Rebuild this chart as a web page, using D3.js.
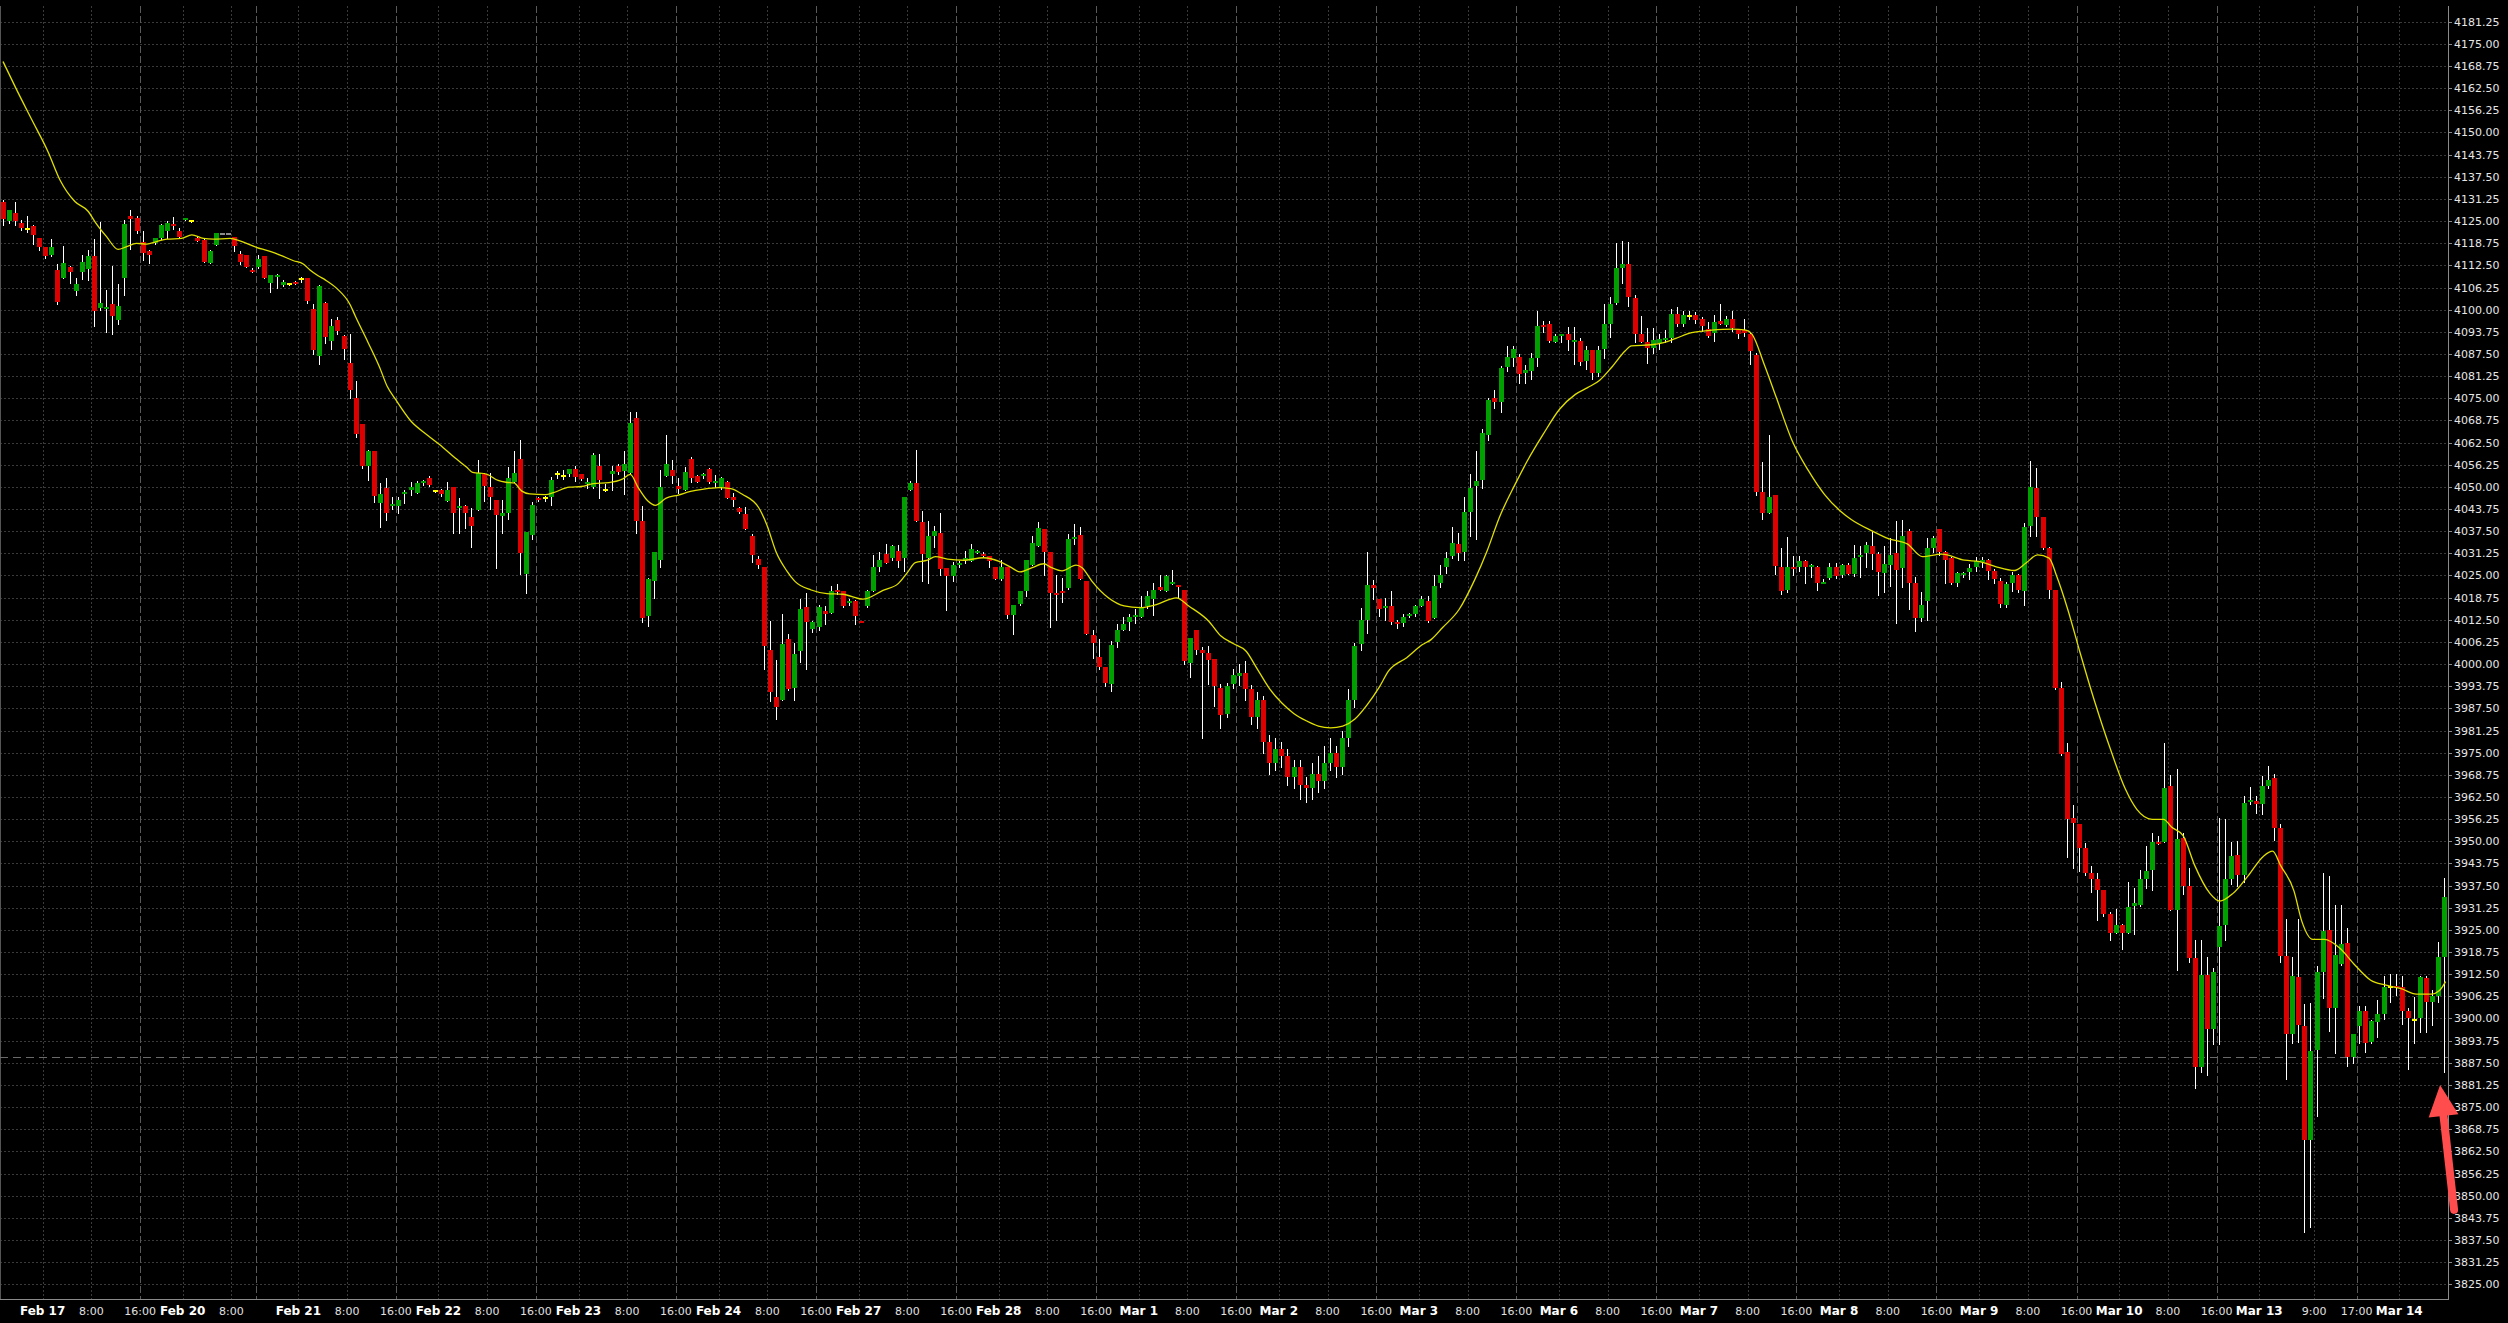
<!DOCTYPE html>
<html><head><meta charset="utf-8">
<script src="https://cdn.jsdelivr.net/npm/d3@7"></script>
<style>html,body{margin:0;padding:0;background:#000;overflow:hidden}svg{display:block}</style>
</head><body><svg id="chart" width="2508" height="1323"></svg>
<script>
// ---------- DATA (hourly candles) ----------
const opens = [
4130.5,4125.0,4127.25,4124.5,4122.75,4123.5,4120.25,4117.75,4115.5,4111.25,
4109.0,4112.0,4105.25,4110.5,4111.5,4115.25,4100.5,4100.5,4101.5,4097.0,
4109.0,4126.5,4126.0,4119.0,4116.5,4118.75,4120.25,4122.25,4124.25,4122.25,
4125.25,4125.0,4120.25,4119.75,4113.25,4118.25,4121.25,4121.25,4120.5,4115.75,
4115.5,4111.25,4112.0,4115.25,4107.5,4109.25,4107.0,4107.25,4107.75,4108.75,
4109.0,4100.25,4087.0,4102.0,4091.25,4097.0,4092.5,4085.0,4075.0,4067.75,
4056.0,4060.0,4045.5,4049.75,4044.5,4044.5,4048.0,4049.0,4048.25,4051.0,
4052.5,4048.75,4049.0,4046.0,4050.0,4044.0,4044.5,4041.5,4043.5,4053.75,
4050.0,4046.25,4041.75,4042.75,4051.25,4058.0,4025.5,4036.5,4046.75,4046.75,
4047.0,4053.5,4053.0,4053.5,4055.0,4053.5,4051.0,4050.0,4056.0,4049.0,
4053.75,4055.75,4054.5,4054.0,4069.5,4040.5,4013.5,4023.5,4029.5,4053.0,
4054.75,4050.25,4049.0,4057.75,4053.0,4053.25,4055.0,4051.25,4050.0,4051.5,
4047.25,4044.0,4042.25,4036.0,4029.75,4027.5,4004.0,3990.75,3990.0,4007.0,
3993.25,4003.75,4016.0,4010.0,4010.5,4015.0,4014.5,4021.0,4020.5,4017.25,
4017.75,4012.25,4016.5,4020.5,4027.5,4031.0,4030.0,4032.0,4030.0,4049.25,
4051.0,4040.0,4030.0,4036.0,4037.0,4027.0,4024.75,4028.0,4029.25,4029.0,
4031.5,4031.0,4030.5,4027.25,4024.0,4027.25,4013.75,4017.0,4020.5,4028.0,
4033.25,4038.25,4031.5,4020.0,4020.5,4021.5,4035.25,4036.5,4023.5,4008.25,
4002.0,3999.25,3994.25,4006.25,4009.5,4012.0,4013.25,4013.25,4016.5,4018.5,
4021.75,4020.5,4023.0,4022.25,4021.0,4000.25,4009.5,4004.0,4003.0,4001.5,
3993.25,3986.0,3994.25,3996.75,3997.5,3993.0,3985.0,3990.0,3978.0,3972.0,
3976.0,3974.0,3968.0,3971.0,3966.0,3965.0,3969.0,3967.0,3972.0,3975.0,
3971.0,3979.0,3990.0,4005.75,4012.5,4022.25,4018.5,4015.75,4016.5,4012.0,
4011.5,4013.75,4014.0,4016.5,4017.75,4013.0,4022.75,4027.25,4030.5,4034.0,
4031.75,4043.0,4050.25,4052.0,4064.75,4075.0,4074.0,4083.75,4086.5,4086.75,
4082.25,4082.75,4086.25,4095.75,4096.0,4091.0,4092.5,4093.0,4091.0,4091.25,
4085.5,4088.5,4082.0,4089.0,4096.0,4102.0,4111.75,4112.75,4103.25,4093.0,
4091.0,4089.25,4090.5,4091.75,4092.0,4098.75,4096.0,4098.25,4098.5,4097.5,
4094.5,4093.5,4096.75,4095.75,4097.5,4094.5,4094.25,4093.0,4087.25,4048.5,
4042.5,4047.75,4027.25,4021.0,4027.25,4027.25,4029.0,4027.25,4027.5,4023.0,
4024.25,4027.25,4025.25,4028.0,4025.5,4030.25,4031.25,4033.25,4031.0,4025.75,
4028.0,4031.25,4027.0,4037.5,4022.75,4013.0,4017.75,4032.75,4038.0,4031.75,
4030.0,4022.75,4025.25,4026.0,4027.25,4028.75,4029.25,4026.25,4023.5,4016.75,
4022.75,4025.0,4020.5,4039.0,4049.75,4041.5,4032.75,4021.0,3993.25,3975.25,
3956.5,3954.75,3948.0,3941.0,3939.25,3936.25,3929.5,3924.25,3926.25,3924.25,
3931.75,3932.0,3939.25,3942.0,3949.75,3949.75,3965.5,3930.5,3951.0,3937.5,
3917.0,3886.25,3912.25,3897.0,3920.25,3926.25,3939.25,3946.0,3940.5,3961.25,
3961.5,3960.5,3965.5,3967.75,3953.75,3917.5,3895.5,3911.75,3898.0,3865.75,
3891.0,3913.25,3925.0,3903.0,3915.5,3921.25,3889.25,3897.75,3902.0,3893.25,
3899.0,3901.25,3909.0,3909.25,3909.0,3902.0,3899.5,3900.0,3911.5,3904.75,
3906.25,3917.25];
const highs = [
4131.0,4128.25,4130.5,4125.25,4126.5,4124.0,4120.25,4117.75,4120.0,4113.0,
4118.0,4112.25,4109.0,4115.5,4116.75,4120.0,4124.75,4105.5,4112.25,4107.25,
4125.25,4128.0,4126.5,4122.25,4116.75,4120.25,4124.25,4125.0,4126.25,4123.0,
4125.75,4125.25,4120.5,4120.0,4116.75,4121.75,4121.25,4121.25,4120.5,4116.5,
4115.5,4111.75,4115.5,4115.25,4109.75,4110.0,4108.25,4107.5,4108.0,4109.25,
4109.0,4101.5,4107.0,4102.25,4097.5,4098.0,4092.75,4093.0,4079.75,4067.75,
4060.5,4060.0,4051.0,4052.5,4047.0,4047.0,4049.0,4051.25,4051.75,4052.0,
4053.0,4049.25,4049.5,4051.5,4050.0,4046.75,4045.0,4044.0,4057.5,4054.0,
4054.0,4046.25,4046.25,4055.5,4060.0,4063.25,4037.25,4045.75,4047.0,4047.5,
4052.75,4054.5,4054.75,4055.0,4055.75,4053.75,4052.5,4059.5,4059.25,4050.75,
4056.0,4056.5,4060.25,4071.0,4071.0,4044.5,4024.25,4031.75,4054.75,4064.75,
4057.5,4052.5,4055.5,4058.5,4053.25,4054.0,4055.25,4053.25,4052.75,4051.75,
4048.25,4044.25,4044.25,4036.75,4030.5,4027.5,4012.25,4001.25,4014.0,4008.5,
4006.0,4018.25,4020.0,4012.25,4016.75,4016.5,4022.0,4022.5,4020.75,4018.5,
4018.0,4012.25,4021.0,4030.75,4031.75,4033.75,4033.5,4033.5,4047.0,4051.75,
4060.5,4043.25,4040.5,4039.0,4042.75,4027.0,4028.75,4029.0,4032.0,4033.75,
4032.25,4031.75,4030.5,4027.5,4029.5,4027.5,4016.75,4020.5,4029.5,4036.0,
4040.0,4038.25,4031.5,4025.0,4024.25,4036.75,4039.5,4038.75,4023.5,4009.75,
4007.0,3999.25,4006.5,4011.25,4013.25,4014.25,4015.5,4019.25,4020.5,4023.0,
4025.25,4025.0,4026.5,4022.25,4021.0,4007.25,4009.75,4004.75,4005.0,4001.5,
3994.25,3994.75,3998.5,4000.0,4001.0,3994.0,3992.0,3991.0,3980.0,3979.0,
3978.0,3976.0,3973.0,3973.0,3968.0,3972.0,3974.0,3977.0,3979.0,3977.0,
3981.0,3993.0,4006.0,4015.75,4031.5,4023.75,4018.5,4018.75,4020.75,4012.5,
4014.0,4014.5,4016.75,4019.25,4019.25,4025.25,4028.0,4031.75,4038.75,4037.0,
4047.0,4053.75,4060.0,4066.25,4075.0,4077.25,4084.0,4089.75,4089.75,4087.5,
4084.25,4087.75,4099.5,4096.75,4096.75,4093.0,4093.25,4095.0,4095.0,4092.0,
4089.75,4088.75,4089.75,4101.5,4103.5,4118.75,4119.5,4119.0,4104.25,4098.25,
4094.75,4094.75,4093.0,4094.25,4100.25,4100.75,4099.75,4099.5,4099.25,4098.0,
4096.5,4098.5,4101.5,4098.25,4099.5,4094.5,4097.25,4093.5,4087.75,4057.0,
4064.5,4047.75,4032.75,4035.75,4030.5,4030.5,4029.25,4028.25,4027.75,4024.0,
4028.5,4028.5,4028.25,4028.5,4033.5,4033.25,4034.5,4037.5,4031.75,4033.25,
4035.5,4040.5,4040.75,4038.0,4024.5,4020.25,4035.5,4036.0,4038.25,4032.0,
4030.25,4026.0,4026.0,4028.25,4030.25,4030.25,4029.75,4026.75,4024.25,4023.25,
4026.0,4025.5,4039.75,4057.25,4055.25,4041.5,4033.0,4021.0,3995.0,3977.75,
3960.25,3954.75,3949.5,3943.0,3941.0,3936.25,3930.0,3931.0,3926.75,3938.5,
3936.75,3942.0,3948.75,3952.25,3951.5,3977.75,3968.75,3970.5,3952.25,3942.5,
3922.25,3922.25,3917.25,3914.25,3956.5,3956.25,3949.75,3950.0,3962.75,3965.25,
3962.75,3968.5,3971.25,3969.0,3955.0,3928.0,3917.25,3928.0,3904.0,3904.25,
3914.75,3941.0,3940.25,3932.0,3932.0,3925.5,3895.75,3903.5,3903.5,3899.5,
3905.25,3912.0,3912.5,3912.5,3912.0,3903.0,3906.0,3912.0,3912.0,3908.0,
3921.5,3939.5];
const lows = [
4124.0,4124.5,4124.0,4122.5,4122.0,4118.5,4116.75,4114.5,4115.25,4101.5,
4109.0,4107.5,4104.0,4108.75,4108.25,4095.5,4100.0,4093.75,4093.0,4096.0,
4104.0,4117.0,4121.75,4114.0,4113.25,4118.5,4120.0,4120.25,4122.75,4120.5,
4125.25,4124.75,4119.25,4113.5,4113.25,4118.25,4121.25,4121.25,4116.5,4113.0,
4112.0,4110.5,4111.75,4109.0,4105.0,4106.25,4106.75,4107.0,4107.25,4107.75,
4101.75,4087.5,4084.75,4090.5,4089.0,4093.0,4086.0,4075.0,4064.0,4055.25,
4052.0,4045.75,4038.75,4040.75,4043.75,4042.5,4045.5,4047.75,4048.25,4050.5,
4050.25,4048.5,4047.5,4046.0,4037.0,4037.0,4038.5,4033.0,4043.5,4046.0,
4043.75,4027.0,4037.0,4041.0,4051.25,4025.5,4020.0,4035.25,4046.0,4046.0,
4045.0,4052.5,4052.25,4053.0,4051.75,4052.0,4049.75,4049.75,4046.75,4048.75,
4049.0,4053.5,4048.0,4053.5,4037.0,4012.0,4010.75,4018.75,4027.25,4053.0,
4051.0,4048.25,4049.0,4051.25,4051.25,4052.5,4051.0,4050.0,4049.5,4046.75,
4044.5,4042.75,4038.25,4028.75,4027.0,3998.5,3989.5,3984.5,3990.0,3992.75,
3990.0,4000.5,3998.5,4009.0,4009.5,4011.25,4014.5,4019.75,4016.0,4016.75,
4011.25,4011.75,4016.0,4020.5,4026.25,4028.5,4029.5,4027.25,4026.25,4049.0,
4040.25,4023.5,4023.0,4033.0,4025.0,4015.25,4023.5,4027.5,4028.5,4029.0,
4031.25,4030.25,4027.25,4024.0,4023.75,4013.0,4008.5,4016.75,4019.25,4028.0,
4033.25,4025.0,4010.5,4012.5,4017.5,4021.25,4033.75,4024.0,4008.5,4001.75,
3998.5,3993.75,3992.5,4004.75,4009.5,4009.75,4011.5,4013.25,4015.75,4013.75,
4021.0,4020.5,4022.5,4018.75,4000.0,3996.25,4002.75,3979.0,3994.25,3988.25,
3982.0,3985.0,3993.25,3994.0,3990.0,3983.0,3982.0,3975.0,3969.0,3970.0,
3971.0,3966.0,3965.0,3962.0,3961.0,3962.0,3964.0,3965.0,3970.0,3968.0,
3969.0,3977.0,3988.0,4004.0,4008.75,4018.25,4013.5,4012.5,4011.25,4010.25,
4010.75,4013.25,4013.5,4016.5,4011.75,4013.0,4021.75,4025.75,4030.0,4029.25,
4029.25,4036.25,4035.25,4049.75,4063.25,4072.25,4071.0,4082.75,4084.0,4079.25,
4079.25,4080.5,4084.0,4093.75,4090.75,4090.75,4090.75,4088.75,4084.75,4084.5,
4083.25,4080.5,4081.25,4086.5,4092.25,4101.5,4107.5,4101.0,4090.75,4090.75,
4085.0,4087.75,4089.0,4090.75,4090.75,4095.5,4095.5,4097.25,4096.25,4094.0,
4092.25,4091.25,4096.0,4095.5,4094.0,4092.0,4092.5,4084.75,4047.75,4041.0,
4042.5,4025.5,4019.75,4020.25,4025.0,4026.25,4022.75,4024.5,4021.0,4022.75,
4024.0,4024.25,4024.5,4025.5,4024.75,4024.5,4027.5,4026.75,4019.5,4020.25,
4022.0,4011.5,4021.75,4015.5,4009.25,4012.25,4012.5,4031.75,4030.75,4022.75,
4022.5,4022.0,4024.5,4024.0,4026.25,4027.25,4024.0,4022.75,4016.0,4016.0,
4020.75,4020.25,4016.75,4036.25,4036.25,4032.5,4018.75,3993.0,3974.25,3945.5,
3942.5,3941.5,3940.5,3935.75,3927.75,3929.0,3922.25,3924.25,3919.5,3924.0,
3923.75,3931.75,3936.75,3936.25,3949.25,3949.75,3930.5,3913.75,3935.25,3916.0,
3880.5,3885.0,3884.0,3892.75,3892.75,3922.25,3938.0,3937.5,3938.5,3960.5,
3958.0,3957.75,3965.0,3950.5,3916.0,3883.0,3893.0,3893.25,3839.75,3841.25,
3872.5,3905.75,3896.5,3890.25,3915.0,3886.5,3887.5,3893.0,3890.5,3893.0,
3894.75,3899.75,3904.75,3906.75,3898.5,3885.75,3893.0,3896.25,3896.25,3898.25,
3904.75,3885.0];
const closes = [
4125.5,4128.0,4125.0,4123.0,4122.75,4121.0,4117.75,4115.0,4117.75,4102.25,
4113.25,4110.75,4107.25,4113.5,4115.25,4099.75,4102.0,4100.75,4098.25,4101.0,
4124.25,4125.5,4122.25,4116.0,4115.5,4120.25,4123.75,4124.5,4123.5,4120.5,
4125.75,4125.0,4119.5,4113.5,4116.5,4121.5,4121.25,4121.25,4118.0,4113.5,
4112.0,4110.75,4114.25,4109.0,4109.75,4109.75,4107.75,4107.25,4107.5,4108.75,
4102.5,4088.5,4106.75,4092.25,4095.25,4094.0,4089.0,4077.25,4065.0,4056.0,
4060.0,4047.5,4048.0,4042.5,4045.25,4046.25,4048.5,4050.0,4051.0,4051.75,
4050.5,4048.75,4048.0,4049.0,4042.5,4044.5,4042.5,4039.0,4054.0,4050.25,
4047.0,4042.0,4042.5,4052.5,4054.0,4031.25,4037.25,4045.0,4046.25,4046.75,
4052.0,4053.5,4053.0,4055.0,4052.75,4052.25,4051.25,4059.0,4052.0,4049.0,
4054.5,4054.25,4056.5,4068.0,4040.5,4013.0,4024.0,4031.5,4050.0,4056.5,
4053.0,4049.5,4054.25,4052.5,4051.5,4053.5,4051.25,4051.75,4052.5,4046.75,
4046.25,4043.0,4038.25,4030.75,4028.0,4005.0,3992.25,3988.0,4005.75,3993.0,
4002.75,4015.5,4012.0,4012.0,4016.0,4014.0,4020.75,4020.75,4016.5,4017.75,
4013.5,4011.75,4020.5,4027.5,4029.25,4028.5,4033.25,4029.0,4047.0,4051.0,
4040.25,4031.0,4036.0,4037.5,4026.75,4024.75,4028.0,4028.5,4030.0,4032.5,
4032.0,4030.5,4029.0,4024.0,4027.25,4013.75,4016.75,4020.5,4029.5,4034.25,
4038.5,4031.5,4020.0,4019.75,4020.0,4035.25,4035.75,4024.0,4008.5,4006.0,
3999.25,3994.75,4005.5,4009.5,4011.25,4013.25,4013.75,4016.0,4019.25,4021.0,
4021.0,4024.75,4023.25,4022.0,4000.75,4007.25,4004.0,4003.0,4001.25,3993.75,
3985.75,3993.75,3997.0,3997.5,3993.0,3985.0,3990.0,3978.0,3972.0,3976.0,
3974.0,3968.0,3971.0,3966.0,3965.0,3969.0,3967.0,3972.0,3975.0,3971.0,
3979.0,3990.0,4005.0,4012.5,4022.25,4021.5,4015.5,4016.5,4011.75,4011.5,
4013.25,4014.25,4016.25,4018.5,4012.25,4022.0,4025.0,4030.0,4034.25,4031.25,
4043.0,4049.75,4051.75,4065.25,4074.5,4074.0,4083.5,4086.75,4089.0,4081.75,
4083.0,4086.5,4095.25,4095.0,4091.25,4092.5,4093.0,4091.5,4091.5,4085.25,
4088.5,4082.25,4088.75,4096.0,4101.5,4111.75,4112.75,4103.5,4093.25,4090.75,
4089.25,4091.5,4091.75,4092.0,4098.75,4096.0,4098.5,4098.25,4097.0,4095.5,
4092.5,4096.5,4096.0,4097.5,4094.75,4093.25,4093.5,4088.25,4048.5,4042.75,
4047.25,4027.75,4020.75,4027.25,4026.75,4029.0,4027.25,4028.0,4023.0,4023.25,
4027.5,4024.75,4028.0,4025.5,4030.0,4030.75,4033.5,4031.0,4026.0,4028.25,
4030.75,4026.5,4036.25,4022.75,4013.0,4016.75,4032.75,4035.5,4031.75,4029.5,
4022.75,4025.75,4025.75,4027.0,4029.0,4029.25,4026.25,4024.0,4017.0,4022.5,
4025.0,4021.0,4038.75,4050.0,4041.5,4032.75,4021.0,3993.25,3974.5,3956.25,
3955.25,3948.0,3941.0,3939.25,3936.25,3929.5,3924.25,3926.25,3924.25,3931.5,
3932.5,3939.25,3941.75,3949.75,3949.5,3965.0,3930.5,3950.75,3937.5,3917.0,
3886.25,3912.25,3897.0,3913.0,3926.0,3939.25,3945.75,3940.5,3960.75,3961.5,
3960.5,3965.5,3967.25,3953.75,3917.5,3895.5,3912.0,3898.25,3865.75,3890.75,
3913.25,3924.75,3903.0,3918.0,3921.0,3889.25,3895.5,3902.0,3893.0,3899.25,
3901.25,3909.0,3909.0,3908.75,3902.0,3900.0,3899.5,3911.75,3904.75,3906.25,
3917.25,3934.25];
// unchanged-bar candles drawn grey in the original
const greyFlat = [36, 37];

// moving average line: candle position and value
const maIdx = [0,2.1,4.75,7.4,9.35,11.8,14,15.1,17,18.9,20.3,21.9,23.6,25.2,26.9,29.3,31,32.9,34.5,37.3,38.9,40.6,41.6,43.3,45.5,47.7,49.3,50.4,51.8,52.9,54.8,57,57.9,59.9,61.8,63.1,64.4,67,69.6,72.2,74.2,76.1,77.1,79.4,81.3,82.6,83.9,85.2,86.5,89.1,90.4,93,95,96.9,99.5,101.6,103,104.3,105.9,107.1,108.9,110.9,112.9,114.8,117.5,119.5,121.4,124.1,125.4,127,128.7,130,132.7,135.3,137.9,141.2,144.5,147,148.5,149.8,151.8,153.1,155.1,157.7,161,163.7,165.6,167,169,170.9,172.2,173.9,176.2,177.2,178.8,181.5,184.1,186.7,189.4,192.7,194.7,198,200,202,204.1,206,208,210,212,214,216,218,220,222,224,226,227.5,230.5,233.1,234.5,236.4,239.1,241.7,243.7,245.7,248.3,250.3,252.9,255.6,258.2,260.2,262.2,264.1,266.4,267.4,270.7,272.7,274.7,277.3,280.6,283.9,286.2,287.2,289.2,291.2,293.8,296.5,299.1,301.7,303.5,307,309.6,312.7,315.2,318.4,322.1,324.6,327.2,330.3,332.2,334.1,336,337.2,339.1,341,343.5,346,348.5,350.4,352.9,354.8,356.1,358,359.9,362.4,364,366.2,368.7,371.2,372.7,374,376.2,377.5,379.3,381.2,383.7,386.2,388.8,391.3,393.8,396.3,398.8,400.1,401.1];
const maVal = [4170.0,4162.5,4153.5,4144.5,4136.6,4130.5,4127.7,4124.8,4120.6,4117.0,4117.8,4118.7,4118.5,4119.2,4119.9,4120.1,4121.1,4120.1,4119.9,4120.1,4119.4,4118.3,4117.6,4116.7,4115.4,4113.8,4112.9,4111.2,4109.5,4108.4,4106.0,4101.4,4098.0,4090.9,4083.9,4078.3,4074.8,4068.5,4064.7,4061.2,4058.2,4055.6,4054.1,4053.6,4051.8,4051.3,4051.1,4048.8,4048.0,4047.8,4048.4,4049.9,4050.1,4050.9,4051.2,4052.1,4053.5,4049.8,4046.0,4044.8,4046.8,4047.7,4048.7,4049.3,4049.8,4049.5,4047.9,4044.1,4039.4,4031.4,4026.3,4023.4,4020.9,4019.9,4019.7,4018.3,4020.8,4022.7,4025.8,4028.6,4029.3,4030.3,4029.6,4029.3,4030.0,4028.9,4027.2,4026.0,4027.2,4028.3,4027.2,4026.3,4027.9,4027.2,4023.4,4018.7,4016.4,4015.9,4016.8,4018.7,4016.4,4012.1,4007.9,4005.8,4003.7,3998.5,3993.0,3989.0,3986.0,3984.0,3982.5,3982.0,3982.5,3984.5,3988.5,3993.5,3998.0,4001.8,4005.5,4006.9,4010.3,4015.4,4023.9,4031.9,4041.3,4050.7,4057.3,4064.8,4071.9,4076.1,4078.0,4080.1,4083.6,4088.4,4089.8,4090.1,4090.7,4091.9,4093.5,4094.2,4094.5,4094.2,4093.1,4084.6,4075.2,4063.0,4054.5,4047.9,4043.2,4040.8,4037.5,4035.4,4033.9,4030.3,4031.0,4029.3,4028.9,4027.5,4026.4,4028.5,4030.8,4029.9,4025.0,4015.2,4003.7,3989.3,3976.3,3964.8,3959.0,3956.2,3956.2,3954.0,3951.6,3943.2,3935.3,3933.1,3935.3,3940.3,3945.8,3947.2,3943.2,3936.0,3927.4,3922.3,3922.3,3919.9,3915.1,3910.8,3909.4,3908.4,3906.9,3906.9,3907.9,3910.4];

// x-axis ticks: candle boundary index, label, kind (d = date, t = time, s = session close)
const xTickIdx   = [7,15,23,30,38,42,49,57,65,72,80,88,95,103,111,118,126,134,141,149,157,164,172,180,187,195,203,210,218,226,233,241,249,256,264,272,279,287,295,302,310,318,325,333,341,348,356,364,371,380,387,394];
const xTickLabel = ["Feb 17","8:00","16:00","Feb 20","8:00","","Feb 21","8:00","16:00","Feb 22","8:00","16:00","Feb 23","8:00","16:00","Feb 24","8:00","16:00","Feb 27","8:00","16:00","Feb 28","8:00","16:00","Mar 1","8:00","16:00","Mar 2","8:00","16:00","Mar 3","8:00","16:00","Mar 6","8:00","16:00","Mar 7","8:00","16:00","Mar 8","8:00","16:00","Mar 9","8:00","16:00","Mar 10","8:00","16:00","Mar 13","9:00","17:00","Mar 14"];
const sessionClose = [23,42,65,88,111,134,157,180,203,226,249,272,295,318,341,364,387];

// y-axis tick labels
const yTicks = [3825.00,3831.25,3837.50,3843.75,3850.00,3856.25,3862.50,3868.75,3875.00,3881.25,3887.50,3893.75,3900.00,3906.25,3912.50,3918.75,3925.00,3931.25,3937.50,3943.75,3950.00,3956.25,3962.50,3968.75,3975.00,3981.25,3987.50,3993.75,4000.00,4006.25,4012.50,4018.75,4025.00,4031.25,4037.50,4043.75,4050.00,4056.25,4062.50,4068.75,4075.00,4081.25,4087.50,4093.75,4100.00,4106.25,4112.50,4118.75,4125.00,4131.25,4137.50,4143.75,4150.00,4156.25,4162.50,4168.75,4175.00,4181.25];

const priceLine = 3889.0;                       // dashed horizontal line
const arrowFrom = [402.5, 3846.0], arrowTo = [400.2, 3881.2]; // red annotation arrow (candle pos, price)

// ---------- DRAWING ----------
const W = 2508, H = 1323;
const P = {left: 0, top: 6, right: 2448, bottom: 1299};
const n = opens.length;
const svg = d3.select("#chart");
svg.append("rect").attr("width", W).attr("height", H).attr("fill", "#000");

const x = d3.scaleBand().domain(d3.range(n)).range([P.left, P.right]).padding(0);
const xc = d3.scaleLinear().domain([-0.5, n - 0.5]).range([P.left, P.right]); // candle centre position
const y = d3.scaleLinear().domain([3820.85, 4185.68]).range([P.bottom, P.top]);
const step = x.step();
const bx = j => j * step;   // boundary position of candle index j (== x(j))

const grid = svg.append("g");
// horizontal grid
grid.selectAll("line.h").data(yTicks).join("line")
  .attr("x1", P.left).attr("x2", P.right)
  .attr("y1", d => Math.round(y(d)) + 0.5).attr("y2", d => Math.round(y(d)) + 0.5)
  .attr("stroke", "#3a3a3a").attr("stroke-dasharray", "2,2");
// vertical grid
grid.selectAll("line.v").data(xTickIdx).join("line")
  .attr("x1", d => Math.round(bx(d)) + 0.5).attr("x2", d => Math.round(bx(d)) + 0.5)
  .attr("y1", P.top).attr("y2", P.bottom)
  .attr("stroke", d => sessionClose.includes(d) ? "#5a5a5a" : "#3a3a3a")
  .attr("stroke-dasharray", d => sessionClose.includes(d) ? "7,3" : "2,2");
// left border
grid.append("line").attr("x1", 0.5).attr("x2", 0.5).attr("y1", P.top).attr("y2", P.bottom).attr("stroke", "#555");

// current price dashed line
svg.append("line").attr("x1", P.left).attr("x2", P.right)
  .attr("y1", Math.round(y(priceLine)) + 0.5).attr("y2", Math.round(y(priceLine)) + 0.5)
  .attr("stroke", "#6a6a6a").attr("stroke-dasharray", "8,5");

// candles
const bodyW = 5;
const idx = d3.range(n);
const cx = i => Math.round(xc(i) - bodyW / 2);
const candles = svg.append("g");
candles.selectAll("line.w").data(idx).join("line")
  .attr("x1", i => cx(i) + 2.5).attr("x2", i => cx(i) + 2.5)
  .attr("y1", i => Math.round(y(highs[i]))).attr("y2", i => Math.round(y(lows[i])) + 1)
  .attr("stroke", "#fff").attr("stroke-width", 1);
candles.selectAll("rect.b").data(idx).join("rect")
  .attr("x", i => cx(i))
  .attr("width", bodyW)
  .attr("y", i => {
    const t = Math.round(y(Math.max(opens[i], closes[i])));
    const b = Math.round(y(Math.min(opens[i], closes[i])));
    return b - t < 2 ? Math.round((t + b) / 2) - 1 : t;
  })
  .attr("height", i => {
    const t = Math.round(y(Math.max(opens[i], closes[i])));
    const b = Math.round(y(Math.min(opens[i], closes[i])));
    return Math.max(2, b - t);
  })
  .attr("fill", i => {
    if (greyFlat.includes(i)) return "#8c8c8c";
    if (closes[i] > opens[i]) return "#00a000";
    if (closes[i] < opens[i]) return "#dc0000";
    return "#ffff00";
  });

// moving average
const maLine = d3.line().x((d, k) => xc(maIdx[k])).y(d => y(d)).curve(d3.curveMonotoneX);
svg.append("path").datum(maVal).attr("d", maLine)
  .attr("fill", "none").attr("stroke", "#e0e000").attr("stroke-width", 1.3);

// axes lines
svg.append("line").attr("x1", P.right + 0.5).attr("x2", P.right + 0.5).attr("y1", P.top).attr("y2", P.bottom + 1).attr("stroke", "#8a8a8a");
svg.append("line").attr("x1", 0).attr("x2", P.right + 1).attr("y1", P.bottom + 0.5).attr("y2", P.bottom + 0.5).attr("stroke", "#8a8a8a");

// y axis labels
const yAxis = svg.append("g");
yAxis.selectAll("line").data(yTicks).join("line")
  .attr("x1", P.right + 1).attr("x2", P.right + 4)
  .attr("y1", d => Math.round(y(d)) + 0.5).attr("y2", d => Math.round(y(d)) + 0.5)
  .attr("stroke", "#8a8a8a");
yAxis.selectAll("text").data(yTicks).join("text")
  .attr("x", P.right + 6).attr("y", d => y(d) + 4)
  .attr("fill", "#e6e6e6").attr("font-family", "'DejaVu Sans', Verdana, sans-serif").attr("font-size", 11)
  .text(d => d3.format(".2f")(d));

// x axis labels
const xAxis = svg.append("g");
xAxis.selectAll("text").data(xTickIdx).join("text")
  .attr("x", d => bx(d)).attr("y", 1315)
  .attr("text-anchor", "middle")
  .attr("fill", (d, k) => /^[A-Z]/.test(xTickLabel[k]) ? "#ffffff" : "#e0e0e0")
  .attr("font-family", "'DejaVu Sans', Verdana, sans-serif")
  .attr("font-weight", (d, k) => /^[A-Z]/.test(xTickLabel[k]) ? "bold" : "normal")
  .attr("font-size", (d, k) => /^[A-Z]/.test(xTickLabel[k]) ? 12 : 11)
  .text((d, k) => xTickLabel[k]);

// red arrow annotation
(function () {
  const x0 = xc(arrowFrom[0]), y0 = y(arrowFrom[1]);
  const x1 = xc(arrowTo[0]), y1 = y(arrowTo[1]);
  const dx = x1 - x0, dy = y1 - y0, L = Math.hypot(dx, dy);
  const ux = dx / L, uy = dy / L, px = -uy, py = ux;
  const headL = 31, headW = 15, shaftW = 4;
  const bxp = x1 - ux * headL, byp = y1 - uy * headL;
  const g = svg.append("g");
  g.append("line").attr("x1", x0).attr("y1", y0).attr("x2", bxp + ux * 2).attr("y2", byp + uy * 2)
    .attr("stroke", "#ff4d4d").attr("stroke-width", shaftW * 2).attr("stroke-linecap", "round");
  g.append("path").attr("d", `M${x1},${y1}L${bxp + px * headW},${byp + py * headW}L${bxp - px * headW},${byp - py * headW}Z`)
    .attr("fill", "#ff4d4d");
})();
</script>
</body></html>
